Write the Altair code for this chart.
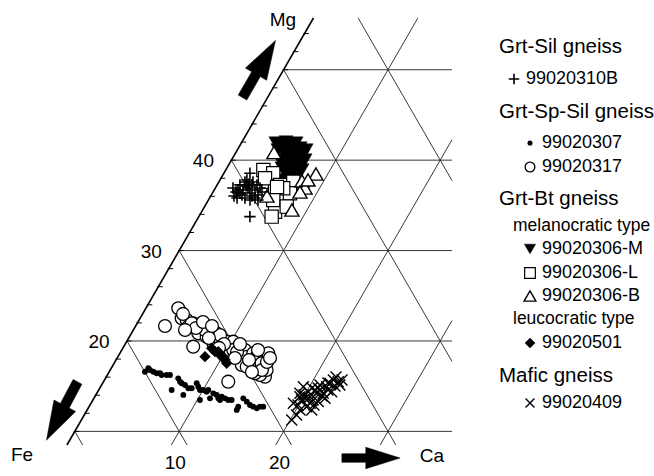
import altair as alt
import pandas as pd
import numpy as np

# ---------------- data: (Mg %, Ca %) ----------------
plus_mg = [38.55, 33.75, 36.70, 37.26, 36.15, 37.59, 35.82, 36.92, 36.37, 37.26, 36.70, 35.82,
           36.15, 36.92, 35.82, 36.70, 35.60, 37.81, 36.48, 37.59, 36.92, 36.04,
           36.37, 37.15, 36.04, 37.26, 37.37, 36.48, 35.60]
plus_ca = [2.50, 4.90, 2.28, 2.19, 2.94, 2.50, 3.39, 3.13, 3.59, 3.34, 3.91, 4.35,
           4.47, 4.28, 2.63, 2.76, 3.98, 2.58, 4.69, 3.27, 1.69, 2.23,
           2.64, 2.83, 3.95, 3.82, 3.01, 2.20, 4.75]

dot_mg = [16.60, 16.98, 16.79, 16.60, 16.43, 16.43, 16.24, 16.24, 16.24, 14.58, 15.87, 15.50, 15.32, 15.13,
          14.03, 14.77, 14.77, 15.32, 14.94, 14.58, 13.47, 14.58, 14.39, 14.58, 13.66, 14.21, 14.03, 13.66,
          13.47, 13.84, 13.66, 13.47, 13.47, 12.37, 12.73, 13.66, 13.29, 12.92, 12.73, 12.56, 12.73, 12.73]
dot_ca = [3.42, 3.55, 3.80, 4.22, 4.63, 4.95, 5.20, 5.68, 6.00, 6.99, 6.97, 7.33, 7.58, 7.99,
          8.38, 8.49, 8.81, 9.02, 9.36, 9.70, 10.25, 10.02, 10.43, 10.50, 11.12, 11.16, 11.58, 11.92,
          12.17, 12.15, 12.56, 12.96, 13.29, 14.33, 14.29, 14.31, 14.83, 15.32, 15.73, 16.14, 16.37, 16.69]

circ_mg = [23.62, 21.66, 22.51, 22.32, 21.58, 21.96, 20.85, 21.58, 19.37, 20.48, 21.22, 20.85, 19.75, 20.11,
           19.92, 19.92, 19.00, 19.37, 19.00, 18.26, 18.26, 18.64, 18.26, 17.90, 17.71, 18.64, 17.16, 16.79,
           17.16, 17.35, 16.05, 16.24, 16.79, 15.50, 21.96, 21.22, 20.66, 19.00, 17.16, 16.43, 17.53,
           22.99, 21.44, 22.10, 20.33, 19.67, 18.78, 17.90, 16.79, 17.68, 18.12, 16.57, 18.12, 19.23,
           21.66, 19.67, 19.00, 21.22]
circ_ca = [3.10, 2.81, 3.98, 4.56, 5.08, 5.37, 6.40, 6.20, 6.66, 7.39, 7.50, 8.16, 8.40, 8.85,
           9.59, 10.22, 10.37, 10.97, 11.80, 11.69, 12.34, 12.78, 13.29, 13.63, 14.20, 14.21, 14.48, 14.18,
           13.36, 12.32, 15.19, 14.62, 14.98, 11.95, 5.22, 6.86, 8.58, 10.68, 12.89, 14.05, 14.13,
           3.87, 5.89, 6.23, 7.68, 9.46, 11.15, 12.74, 14.53, 14.57, 14.64, 13.68, 11.28, 9.20,
           7.31, 10.99, 13.05, 4.95]

tdn_mg = [41.13, 41.35, 41.13, 40.91, 40.80, 40.58, 40.58, 40.24, 40.02, 39.80, 40.02, 39.47,
          39.14, 38.92, 38.69, 38.25, 38.14, 41.68, 41.57, 41.35, 40.02, 37.26, 37.81,
          41.90, 42.01, 41.90, 41.13, 39.58, 39.14, 38.92, 38.03, 36.48]
tdn_ca = [3.90, 4.27, 4.86, 5.45, 5.98, 6.57, 4.84, 5.49, 6.08, 6.67, 4.65, 5.60,
          6.23, 6.82, 5.78, 6.48, 7.12, 4.01, 4.92, 5.90, 7.04, 6.79, 6.13,
          3.32, 4.22, 5.24, 6.59, 6.21, 5.28, 7.30, 6.88, 7.18]

sq_mg = [38.92, 37.62, 38.55, 37.26, 36.89, 35.79, 34.86, 34.30, 33.75, 37.62, 36.34, 36.89, 38.00, 35.60, 34.86, 37.04]
sq_ca = [3.60, 4.72, 4.73, 6.03, 5.73, 7.08, 7.23, 7.03, 6.98, 7.12, 7.44, 6.52, 4.22, 6.21, 7.87, 5.85]

tup_mg = [40.85, 36.04, 37.70, 36.92, 38.47, 34.49, 37.81, 36.48]
tup_ca = [3.65, 5.39, 7.91, 8.59, 8.86, 8.55, 8.43, 8.33]

dia_mg = [18.26, 18.82, 18.45, 17.90, 17.53, 19.19, 18.82, 18.09]
dia_ca = [8.34, 9.02, 9.68, 10.44, 10.78, 8.51, 9.34, 10.18]

x_mg = [11.26, 13.11, 13.84, 14.94, 14.39, 12.73, 12.37, 13.47, 14.21, 14.58, 14.21, 14.94, 15.32, 15.69,
        15.50, 15.13, 14.39, 13.66, 13.29, 13.11, 13.47, 11.81, 14.21, 15.13, 13.63, 14.58, 15.02, 14.80,
        12.92, 14.03, 13.69, 14.58, 13.92, 15.35, 16.02, 15.69, 12.92, 12.37, 14.80]
x_ca = [20.15, 19.38, 19.65, 19.42, 20.17, 20.84, 21.51, 21.10, 21.06, 21.20, 21.69, 21.66, 21.78, 21.92,
        22.49, 22.83, 22.41, 22.14, 21.68, 20.98, 19.99, 20.34, 19.46, 20.92, 20.23, 21.96, 22.41, 20.32,
        19.92, 19.94, 20.58, 20.72, 21.72, 21.57, 22.01, 22.75, 21.45, 20.39, 20.90]

grid_values = [10, 20, 30, 40, 50, 60, 70, 80, 90]
left_labels = [20, 30, 40]
bottom_labels = [10, 20]

legend_lines = [
    ("Grt-Sil gneiss", "head", None), ("99020310B", "item0", "plus"),
    ("Grt-Sp-Sil gneiss", "head", None), ("99020307", "item", "dot"), ("99020317", "item", "circle"),
    ("Grt-Bt gneiss", "head", None), ("melanocratic type", "sub", None),
    ("99020306-M", "item", "tdown"), ("99020306-L", "item", "square"), ("99020306-B", "item", "tup"),
    ("leucocratic type", "sub", None), ("99020501", "item", "diamond"),
    ("Mafic gneiss", "head", None), ("99020409", "item", "cross"),
]
legend_y = [47, 79, 112, 143, 167, 199, 226, 249, 273, 296, 319, 343, 376, 403]

# ---------------- geometry (ternary -> cartesian) ----------------
S3 = np.sqrt(3) / 2
PX = 10.44                      # pixels per percent
XMIN = -22.6 / PX
XMAX = XMIN + 654 / PX
YMAX = 521.8 / PX
YMIN = YMAX - 476 / PX
XR = (452 - 22.6) / PX          # right edge of the drawn window
YB = (521.8 - 445) / PX         # bottom of the drawn window
YT = (521.8 - 18) / PX          # top of the drawn window
MB, MT = YB / S3, YT / S3

xs = alt.Scale(domain=[XMIN, XMAX], nice=False, zero=False)
ys = alt.Scale(domain=[YMIN, YMAX], nice=False, zero=False)
FONT = "Liberation Sans"


def tern(mg, ca):
    mg = np.asarray(mg, float)
    ca = np.asarray(ca, float)
    return pd.DataFrame({"x": ca + mg / 2, "y": mg * S3})


segs = []
for k in grid_values:
    if k <= 50:
        segs.append((k / 2, k * S3, XR, k * S3))
for k in grid_values:
    m0, m1 = MB, min(MT, 2 * (XR - k))
    if m1 > m0:
        segs.append((k + m0 / 2, m0 * S3, k + m1 / 2, m1 * S3))
for f in grid_values:
    s = 100 - f
    m0, m1 = max(MB, 2 * (s - XR)), min(s, MT)
    if m1 > m0:
        segs.append((s - m0 / 2, m0 * S3, s - m1 / 2, m1 * S3))
grid_df = pd.DataFrame(segs, columns=["x", "y", "x2", "y2"])
edge_df = pd.DataFrame([(MB / 2, MB * S3, MT / 2, MT * S3)], columns=["x", "y", "x2", "y2"])
tick_m = [m for m in range(10, 56, 2)]
tick_df = pd.DataFrame({"x": [m / 2 - 0.1 for m in tick_m], "y": [m * S3 for m in tick_m],
                        "x2": [m / 2 + 0.42 for m in tick_m], "y2": [m * S3 for m in tick_m]})


def seg_layer(df, width, color):
    return alt.Chart(df).mark_rule(strokeWidth=width, color=color).encode(
        x=alt.X("x:Q", scale=xs, axis=None), y=alt.Y("y:Q", scale=ys, axis=None),
        x2="x2:Q", y2="y2:Q")


PLUS = "M-1,0L1,0M0,-1L0,1"
CROSS = "M-1,-1L1,1M-1,1L1,-1"
ARROW = "M-1,-0.15L-0.18,-0.15L-0.18,-0.37L1,0L-0.18,0.37L-0.18,0.15L-1,0.15Z"

styles = {
    "plus": dict(shape=PLUS, filled=False, stroke="black", strokeWidth=1.6),
    "dot": dict(shape="circle", filled=True, fill="black", stroke="black", strokeWidth=0),
    "circle": dict(shape="circle", filled=True, fill="white", stroke="black", strokeWidth=1.3),
    "tdown": dict(shape="triangle-down", filled=True, fill="black", stroke="black", strokeWidth=0.5),
    "square": dict(shape="square", filled=True, fill="white", stroke="black", strokeWidth=1.2),
    "tup": dict(shape="triangle-up", filled=True, fill="white", stroke="black", strokeWidth=1.4),
    "diamond": dict(shape="diamond", filled=True, fill="black", stroke="black", strokeWidth=0.5),
    "cross": dict(shape=CROSS, filled=False, stroke="black", strokeWidth=1.4),
}
plot_size = {"plus": 130, "dot": 34, "circle": 165, "tdown": 200, "square": 175, "tup": 200,
             "diamond": 115, "cross": 120}
leg_size = {"plus": 110, "dot": 26, "circle": 95, "tdown": 125, "square": 115, "tup": 140,
            "diamond": 100, "cross": 80}


def pts(mg, ca, kind):
    st = dict(styles[kind])
    return alt.Chart(tern(mg, ca)).mark_point(size=plot_size[kind], opacity=1, **st).encode(
        x=alt.X("x:Q", scale=xs, axis=None), y=alt.Y("y:Q", scale=ys, axis=None))


layers = [
    seg_layer(grid_df, 0.9, "#222"),
    seg_layer(edge_df, 1.6, "black"),
    seg_layer(tick_df, 1.0, "black"),
    pts(dot_mg, dot_ca, "dot"),
    pts(x_mg, x_ca, "cross"),
    pts(circ_mg, circ_ca, "circle"),
    pts(dia_mg, dia_ca, "diamond"),
    pts(tdn_mg, tdn_ca, "tdown"),
    pts(sq_mg, sq_ca, "square"),
    pts(tup_mg, tup_ca, "tup"),
    pts(plus_mg, plus_ca, "plus"),
]

# axis numbers
ll = pd.DataFrame({"x": [m / 2 for m in left_labels], "y": [m * S3 for m in left_labels],
                   "t": [str(m) for m in left_labels]})
layers.append(alt.Chart(ll).mark_text(font=FONT, fontSize=19, dx=-28, dy=1, align="center",
                                       baseline="middle", color="black").encode(
    x=alt.X("x:Q", scale=xs, axis=None), y=alt.Y("y:Q", scale=ys, axis=None), text="t:N"))
bl = pd.DataFrame({"x": [c + 5 for c in bottom_labels], "y": [10 * S3] * len(bottom_labels),
                   "t": [str(c) for c in bottom_labels]})
layers.append(alt.Chart(bl).mark_text(font=FONT, fontSize=19, dx=-4, dy=32, align="center",
                                       baseline="middle", color="black").encode(
    x=alt.X("x:Q", scale=xs, axis=None), y=alt.Y("y:Q", scale=ys, axis=None), text="t:N"))

# corner names
for name, px, py in [("Mg", 283, 20), ("Fe", 22, 455), ("Ca", 432, 456)]:
    layers.append(alt.Chart(pd.DataFrame({"t": [name]})).mark_text(
        font=FONT, fontSize=19, align="center", baseline="middle", color="black").encode(
        x=alt.value(px), y=alt.value(py), text="t:N"))

# arrows
for px, py, ang, sz in [(259, 69, 300, 4350), (62, 411, 118, 4350), (371, 458, 0, 3400)]:
    layers.append(alt.Chart(pd.DataFrame({"a": [0]})).mark_point(
        shape=ARROW, filled=True, fill="black", stroke="black", strokeWidth=0.5, opacity=1).encode(
        x=alt.value(px), y=alt.value(py), angle=alt.value(ang), size=alt.value(sz)))

# legend
for (txt, kind, sym), yy in zip(legend_lines, legend_y):
    sx = 530
    if kind == "head":
        tx, fs = 499, 20.5
    elif kind == "sub":
        tx, fs = 513, 17.5
    elif kind == "item0":
        tx, fs, sx = 526, 18, 514
    else:
        tx, fs = 542, 18
    layers.append(alt.Chart(pd.DataFrame({"t": [txt]})).mark_text(
        font=FONT, fontSize=fs, align="left", baseline="middle", color="black").encode(
        x=alt.value(tx), y=alt.value(yy), text="t:N"))
    if sym:
        st = dict(styles[sym])
        layers.append(alt.Chart(pd.DataFrame({"a": [0]})).mark_point(opacity=1, **st).encode(
            x=alt.value(sx), y=alt.value(yy), size=alt.value(leg_size[sym])))

chart = alt.layer(*layers).properties(
    width=654, height=476, padding=0, autosize="none", background="white"
).configure_view(stroke=None)

chart.save("out.html", embed_options={"renderer": "svg", "actions": False})
